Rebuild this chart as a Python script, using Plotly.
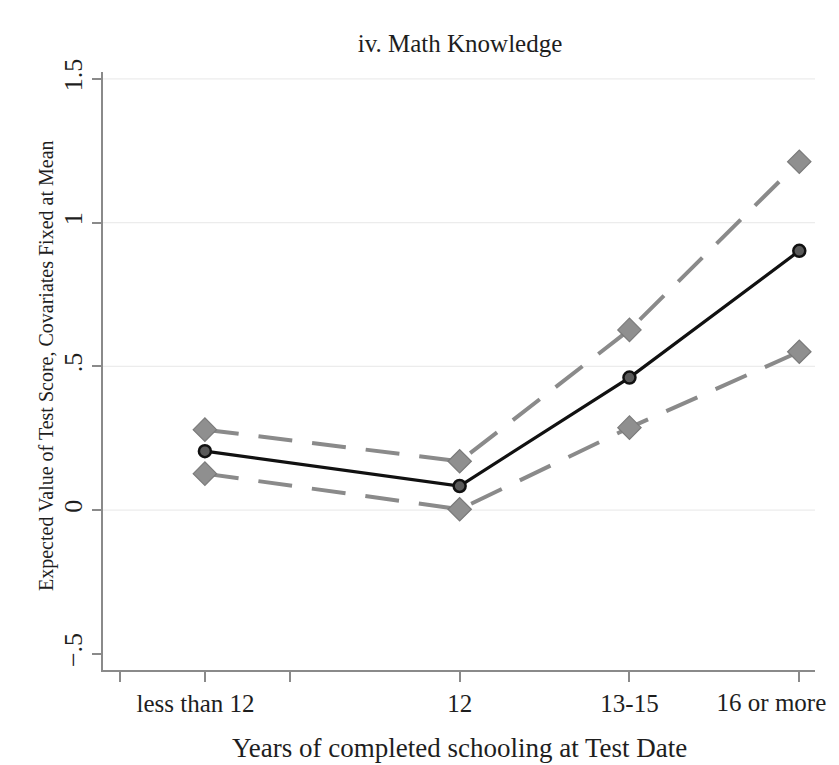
import plotly.graph_objects as go

# ---- data ----
categories = ["less than 12", "12", "13-15", "16 or more"]
x_pos = [9, 12, 14, 16]
estimate = [0.205, 0.084, 0.461, 0.902]
upper_ci = [0.280, 0.170, 0.627, 1.212]
lower_ci = [0.127, 0.003, 0.287, 0.551]

y_tickvals = [-0.5, 0, 0.5, 1, 1.5]
y_ticktext = ["\u2212.5", "0", ".5", "1", "1.5"]
x_major_ticks = [8, 10]

PAGE_W, PAGE_H = 839, 765
OFF = 8  # page body margin
W, H = PAGE_W - OFF, PAGE_H - OFF
# target plot box in page pixels: left 103, right 815, top 72, bottom 670
ML, MR, MT, MB = 103 - OFF, PAGE_W - 815, 72 - OFF, PAGE_H - 670
FONT = "Liberation Serif"
TXT = "#1e1e1e"
X_RANGE = [7.8, 16.185]

fig = go.Figure()

ci_line = dict(color="#8a8a8a", width=4, dash="34px,20px")
ci_marker = dict(symbol="diamond", size=18, color="#8f8f8f",
                 line=dict(color="#7a7a7a", width=1.2))
fig.add_trace(go.Scatter(x=x_pos, y=upper_ci, mode="lines+markers",
                         line=ci_line, marker=ci_marker,
                         showlegend=False, hoverinfo="skip"))
fig.add_trace(go.Scatter(x=x_pos, y=lower_ci, mode="lines+markers",
                         line=ci_line, marker=ci_marker,
                         showlegend=False, hoverinfo="skip"))
# the point estimate is drawn on the overlaid twin x axis (same range)
fig.add_trace(go.Scatter(
    x=x_pos, y=estimate, mode="lines+markers", xaxis="x2", yaxis="y",
    line=dict(color="#111111", width=3.2),
    marker=dict(symbol="circle", size=12, color="#5a5a5a",
                line=dict(color="#111111", width=2.5)),
    showlegend=False, hoverinfo="skip"))

pw = W - ML - MR
ph = H - MT - MB

shapes = []
for yv in y_tickvals[1:]:
    shapes.append(dict(type="line", xref="paper", yref="y", x0=0, x1=1,
                       y0=yv, y1=yv, line=dict(color="#ececec", width=1.3),
                       layer="below"))

annotations = [
    dict(text="Years of completed schooling at Test Date", xref="paper", yref="paper",
         x=0.5, y=-((748 - OFF) - (MT + ph)) / ph, xanchor="center", yanchor="middle",
         showarrow=False, font=dict(family=FONT, size=27, color=TXT)),
    dict(text="Expected Value of Test Score, Covariates Fixed at Mean",
         xref="paper", yref="paper", x=-(ML - (46 - OFF)) / pw,
         y=0.5 + (371 - 366) / ph,
         xanchor="center", yanchor="middle", textangle=-90, showarrow=False,
         font=dict(family=FONT, size=20, color=TXT)),
]

# last category label sits on the overlaid axis so it can be right-aligned
last_cat, last_x = categories[-1], x_pos[-1]
label_pad = {"less than 12": 3}
x_tickvals = sorted(x_major_ticks + x_pos)
x_ticktext = []
for v in x_tickvals:
    if v in x_pos and v != last_x:
        name = categories[x_pos.index(v)]
        x_ticktext.append(name + "\u00a0" * label_pad.get(name, 0))
    else:
        x_ticktext.append("")

tickfont = dict(family=FONT, size=25, color=TXT)

fig.update_layout(
    width=W, height=H,
    margin=dict(l=ML, r=MR, t=MT, b=MB, autoexpand=False),
    paper_bgcolor="white", plot_bgcolor="white",
    font=dict(family=FONT, color=TXT),
    title=dict(text="iv. Math Knowledge", x=(460 - OFF) / W, xanchor="center",
               y=1 - (43 - OFF) / H, yanchor="middle",
               font=dict(family=FONT, size=25, color=TXT)),
    shapes=shapes,
    annotations=annotations,
    xaxis=dict(
        range=X_RANGE, tickmode="array", tickvals=x_tickvals,
        ticktext=x_ticktext, ticks="outside", ticklen=10, tickwidth=2,
        tickcolor="#8a8a8a", showline=True, linecolor="#8a8a8a", linewidth=2,
        showgrid=False, zeroline=False, automargin=False,
        ticklabeloverflow="allow", tickfont=tickfont,
    ),
    xaxis2=dict(
        range=X_RANGE, overlaying="x", anchor="y", side="bottom",
        tickmode="array", tickvals=[last_x], ticktext=[last_cat],
        ticks="outside", ticklen=10, tickwidth=2, tickcolor="rgba(0,0,0,0)",
        ticklabelposition="outside left", ticklabelshift=28,
        ticklabelstandoff=10,
        showline=False, showgrid=False, zeroline=False, automargin=False,
        ticklabeloverflow="allow", tickfont=tickfont,
    ),
    yaxis=dict(
        range=[-0.556, 1.524], tickmode="array", tickvals=y_tickvals,
        ticktext=y_ticktext, tickangle=-90, ticks="outside", ticklen=9,
        tickwidth=2, tickcolor="#8a8a8a", showline=True, linecolor="#8a8a8a",
        linewidth=2, showgrid=False, zeroline=False, automargin=False,
        ticklabeloverflow="allow",
        tickfont=dict(family=FONT, size=26, color=TXT),
    ),
)

fig.write_html("out.html")
